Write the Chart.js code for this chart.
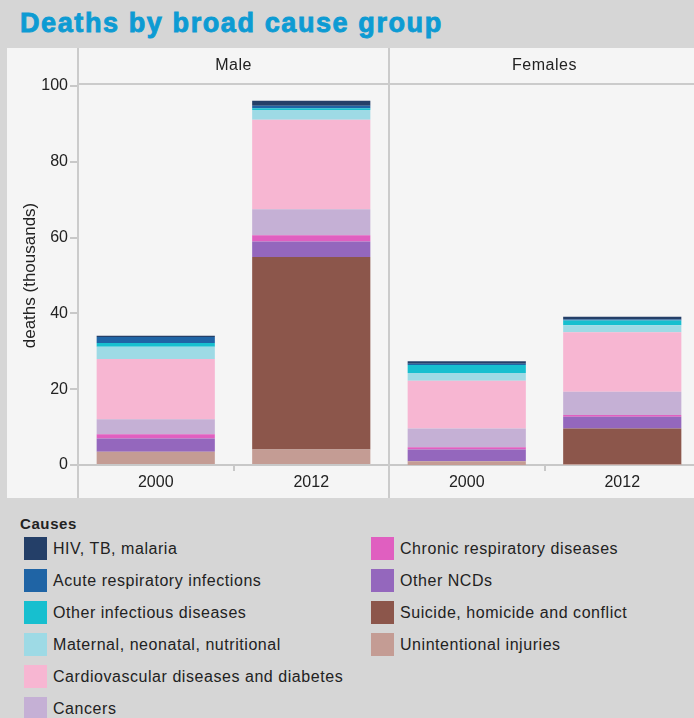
<!DOCTYPE html>
<html>
<head>
<meta charset="utf-8">
<script src="https://cdn.jsdelivr.net/npm/chart.js@4/dist/chart.umd.min.js"></script>
<style>
  html, body { margin: 0; padding: 0; }
  body {
    width: 694px; height: 718px; overflow: hidden; position: relative;
    background: #d6d6d6; font-family: "Liberation Sans", Arial, sans-serif; color: #222;
  }
  #title {
    position: absolute; left: 20px; top: 10px; font-size: 27px; line-height: 26px;
    font-weight: bold; color: #0d9bd3; white-space: nowrap;
    letter-spacing: 1.6px; -webkit-text-stroke: 0.9px #0d9bd3;
  }
  #panel { position: absolute; left: 7px; top: 48px; width: 700px; height: 450px; background: #f5f5f5; }
  .wrap { position: absolute; top: 48px; height: 450px; }
  .vline { position: absolute; top: 48px; width: 2px; height: 450px; background: #cbcbcb; }
  .hline { position: absolute; height: 2px; background: #cbcbcb; }
  .strip { position: absolute; top: 56px; font-size: 16px; letter-spacing: 0.5px; text-align: center; }
  #legend { position: absolute; left: 0; top: 0; }
  .legTitle { position: absolute; left: 20px; top: 515px; font-size: 15px; letter-spacing: 0.6px; font-weight: bold; }
  .legItem { position: absolute; font-size: 16px; letter-spacing: 0.55px; line-height: 23px; white-space: nowrap; }
  .legItem span { position: absolute; left: 0; top: 0; width: 23px; height: 23px; }
  .legItem b { font-weight: normal; position: absolute; left: 29px; top: 0; }
</style>
</head>
<body>
<div id="title">Deaths by broad cause group</div>
<div id="panel"></div>

<div class="wrap" style="left:7px;width:382px"><canvas id="maleChart" width="382" height="450"></canvas></div>
<div class="wrap" style="left:389px;width:311px"><canvas id="femaleChart" width="311" height="450"></canvas></div>

<div class="vline" style="left:77px"></div>
<div class="vline" style="left:388px"></div>
<div class="hline" style="left:78px;top:83px;width:620px"></div>
<div class="strip" style="left:78px;width:311px">Male</div>
<div class="strip" style="left:389px;width:311px">Females</div>

<div id="legend"><div class="legTitle">Causes</div></div>

<script>
// ---------------------------------------------------------------- DATA
// thousands of deaths
const years = ['2000', '2012'];
const panels = ['Male', 'Females'];

// legend order (top of legend first)
const causes = [
  'HIV, TB, malaria',
  'Acute respiratory infections',
  'Other infectious diseases',
  'Maternal, neonatal, nutritional',
  'Cardiovascular diseases and diabetes',
  'Cancers',
  'Chronic respiratory diseases',
  'Other NCDs',
  'Suicide, homicide and conflict',
  'Unintentional injuries'
];

const causeColors = [
  '#243f68', '#1f64a5', '#17bfcf', '#9edae5', '#f7b6d2',
  '#c5b0d5', '#e05fc0', '#9467bd', '#8c564b', '#c49c94'
];

// values per cause, same order as causes: [2000, 2012]
const maleValues = [
  [0.3, 1.3],   // HIV, TB, malaria
  [1.6, 0.7],   // Acute respiratory infections
  [1.0, 0.4],   // Other infectious diseases
  [3.2, 2.6],   // Maternal, neonatal, nutritional
  [15.9, 23.6], // Cardiovascular diseases and diabetes
  [4.0, 6.9],   // Cancers
  [1.1, 1.6],   // Chronic respiratory diseases
  [3.5, 4.1],   // Other NCDs
  [0, 50.8],    // Suicide, homicide and conflict
  [3.5, 4.1]    // Unintentional injuries
];

const femaleValues = [
  [0.7, 0.7],
  [0.3, 0.3],
  [2.1, 1.2],
  [2.1, 1.9],
  [12.6, 15.7],
  [4.9, 6.1],
  [0.6, 0.5],
  [3.1, 3.1],
  [0, 9.4],
  [1.0, 0.2]
];

const yTicks = [0, 20, 40, 60, 80, 100];

// ---------------------------------------------------------------- CHARTS
const tickFont = { family: 'Liberation Sans', size: 16 };
const lineColor = '#c8c8c8';

// stacking goes bottom-up, so build datasets from the end of the legend list
function buildDatasets(values) {
  const sets = [];
  for (let i = causes.length - 1; i >= 0; i--) {
    sets.push({
      label: causes[i],
      data: values[i],
      backgroundColor: causeColors[i],
      borderWidth: 0,
      barPercentage: 0.76,
      categoryPercentage: 1.0
    });
  }
  return sets;
}

function makeChart(canvasId, values, showY) {
  const ctx = document.getElementById(canvasId).getContext('2d');
  return new Chart(ctx, {
    type: 'bar',
    data: { labels: years, datasets: buildDatasets(values) },
    options: {
      responsive: false,
      animation: false,
      layout: { padding: { top: 38, right: 0, bottom: 0, left: 0 } },
      plugins: { legend: { display: false }, tooltip: { enabled: false } },
      scales: {
        x: {
          stacked: true,
          grid: { drawOnChartArea: false, drawTicks: true, tickLength: 6, color: lineColor, lineWidth: 2 },
          border: { display: true, color: lineColor, width: 2 },
          ticks: { font: tickFont, color: '#222', padding: 2, maxRotation: 0 },
          afterFit: s => { s.height = 33; }
        },
        y: {
          display: showY,
          stacked: true,
          min: 0,
          max: 100,
          afterBuildTicks: s => { s.ticks = yTicks.map(v => ({ value: v })); },
          ticks: { font: tickFont, color: '#222', padding: 2 },
          grid: { drawOnChartArea: false, tickLength: 8, color: lineColor, lineWidth: 2 },
          border: { display: false },
          title: {
            display: true,
            text: 'deaths (thousands)',
            color: '#222',
            font: { family: 'Liberation Sans', size: 17 },
            padding: { top: 13, bottom: 0 }
          },
          // only the male panel carries the axis; the female one gets no width
          afterFit: s => { s.width = showY ? 71 : 0; }
        }
      }
    }
  });
}

makeChart('maleChart', maleValues, true);
makeChart('femaleChart', femaleValues, false);

// ---------------------------------------------------------------- LEGEND
const legend = document.getElementById('legend');
causes.forEach((name, i) => {
  const col = i < 6 ? 0 : 1;
  const row = i < 6 ? i : i - 6;
  const item = document.createElement('div');
  item.className = 'legItem';
  item.style.left = (col === 0 ? 24 : 371) + 'px';
  item.style.top = (537 + row * 32) + 'px';
  item.innerHTML = `<span style="background:${causeColors[i]}"></span><b>${name}</b>`;
  legend.appendChild(item);
});
</script>
</body>
</html>
